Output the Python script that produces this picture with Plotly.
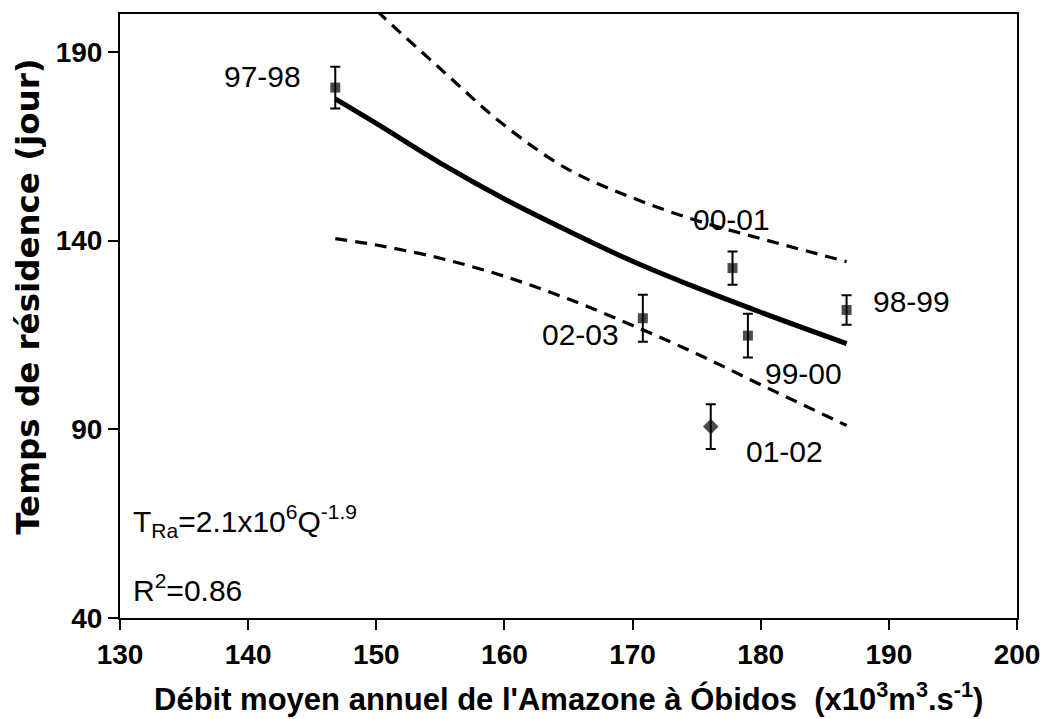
import plotly.graph_objects as go

# Mean annual discharge (x10^3 m3/s) and residence time (days) per hydrological year
years = ["97-98", "98-99", "99-00", "00-01", "01-02", "02-03"]
discharge = [146.8, 186.7, 179.0, 177.8, 176.1, 170.8]
residence = [180.5, 121.6, 114.8, 132.7, 90.7, 119.4]
residence_err = [5.5, 3.9, 5.8, 4.4, 5.9, 6.2]

# Power-law fit and its confidence band, sampled along the discharge range
fit_q = [146.8, 150, 155, 160, 165, 170, 175, 180, 186.7]
fit_t = [177.5, 171.0, 160.5, 151.0, 142.5, 134.5, 127.5, 121.0, 112.7]
band_upper = [212.0, 201.0, 185.5, 170.5, 158.8, 151.3, 145.3, 140.5, 134.4]
band_lower = [140.5, 138.8, 135.3, 130.5, 124.5, 117.5, 110.0, 101.8, 91.0]

# Axis ticks
x_ticks = [130, 140, 150, 160, 170, 180, 190, 200]
y_ticks = [40, 90, 140, 190]

# Year label anchors (x, y, horizontal anchor)
label_x = [144.3, 188.6, 180.2, 177.7, 178.7, 169.1]
label_y = [183.4, 123.8, 104.9, 145.5, 84.1, 115.0]
label_anchor = ["right", "left", "left", "center", "left", "right"]

FONT = "Liberation Sans, Arial, sans-serif"
WIDE_FONT = "DejaVu Sans, Verdana, sans-serif"

fig = go.Figure()

band_line = dict(color="black", width=3.2, dash="12px,8px", shape="spline")
fig.add_trace(go.Scatter(x=fit_q, y=band_upper, mode="lines", line=band_line,
                         hoverinfo="skip", showlegend=False))
fig.add_trace(go.Scatter(x=fit_q, y=band_lower, mode="lines", line=band_line,
                         hoverinfo="skip", showlegend=False))
fig.add_trace(go.Scatter(x=fit_q, y=fit_t, mode="lines",
                         line=dict(color="black", width=5, shape="spline"),
                         hoverinfo="skip", showlegend=False))

symbols = ["diamond" if y == "01-02" else "square" for y in years]
sizes = [12 if y == "01-02" else 10 for y in years]
fig.add_trace(go.Scatter(
    x=discharge, y=residence, mode="markers",
    marker=dict(symbol=symbols, size=sizes, color="black", line=dict(width=0)),
    error_y=dict(type="data", array=residence_err, visible=True, color="black", thickness=2, width=5),
    showlegend=False))

for name, lx, ly, anc in zip(years, label_x, label_y, label_anchor):
    fig.add_annotation(x=lx, y=ly, text=name, showarrow=False, xanchor=anc, yanchor="middle",
                       font=dict(family=FONT, size=30, color="black"))

fig.add_annotation(x=0.012, y=0.16, xref="paper", yref="paper", xanchor="left", yanchor="middle",
                   text="T<sub>Ra</sub>=2.1x10<sup>6</sup>Q<sup>-1.9</sup>", showarrow=False,
                   font=dict(family=FONT, size=30, color="black"))
fig.add_annotation(x=0.012, y=0.05, xref="paper", yref="paper", xanchor="left", yanchor="middle",
                   text="R<sup>2</sup>=0.86", showarrow=False,
                   font=dict(family=FONT, size=30, color="black"))

# Axis titles
fig.add_annotation(x=0.5, y=-0.167, xref="paper", yref="paper", xanchor="center", yanchor="bottom",
                   text="<b>Débit moyen annuel de l'Amazone à Óbidos\u00a0 (x10<sup>3</sup>m<sup>3</sup>.s<sup>-1</sup>)</b>",
                   showarrow=False, font=dict(family=FONT, size=31, color="black"))
fig.add_annotation(x=-0.1025, y=0.532, xref="paper", yref="paper", xanchor="center", yanchor="middle",
                   text="<b>Temps de résidence (jour)</b>", textangle=-90,
                   showarrow=False, font=dict(family=WIDE_FONT, size=32.5, color="black"))

axis_common = dict(showline=True, linecolor="black", linewidth=2, mirror=True, ticks="outside",
                   tickcolor="black", tickwidth=2, ticklen=10, showgrid=False, zeroline=False,
                   tickfont=dict(family=FONT, size=28, color="black"))

fig.update_xaxes(range=[130, 200], tickvals=x_ticks, ticktext=[f"<b>{v}</b>" for v in x_ticks], **axis_common)
fig.update_yaxes(range=[40, 200], tickvals=y_ticks, ticktext=[f"<b>{v}</b>" for v in y_ticks], **axis_common)

fig.update_layout(
    width=1052, height=719,
    margin=dict(l=120, r=24, t=14, b=101),
    plot_bgcolor="white", paper_bgcolor="white",
    font=dict(family=FONT, color="black"),
)

fig.write_html("out.html")
